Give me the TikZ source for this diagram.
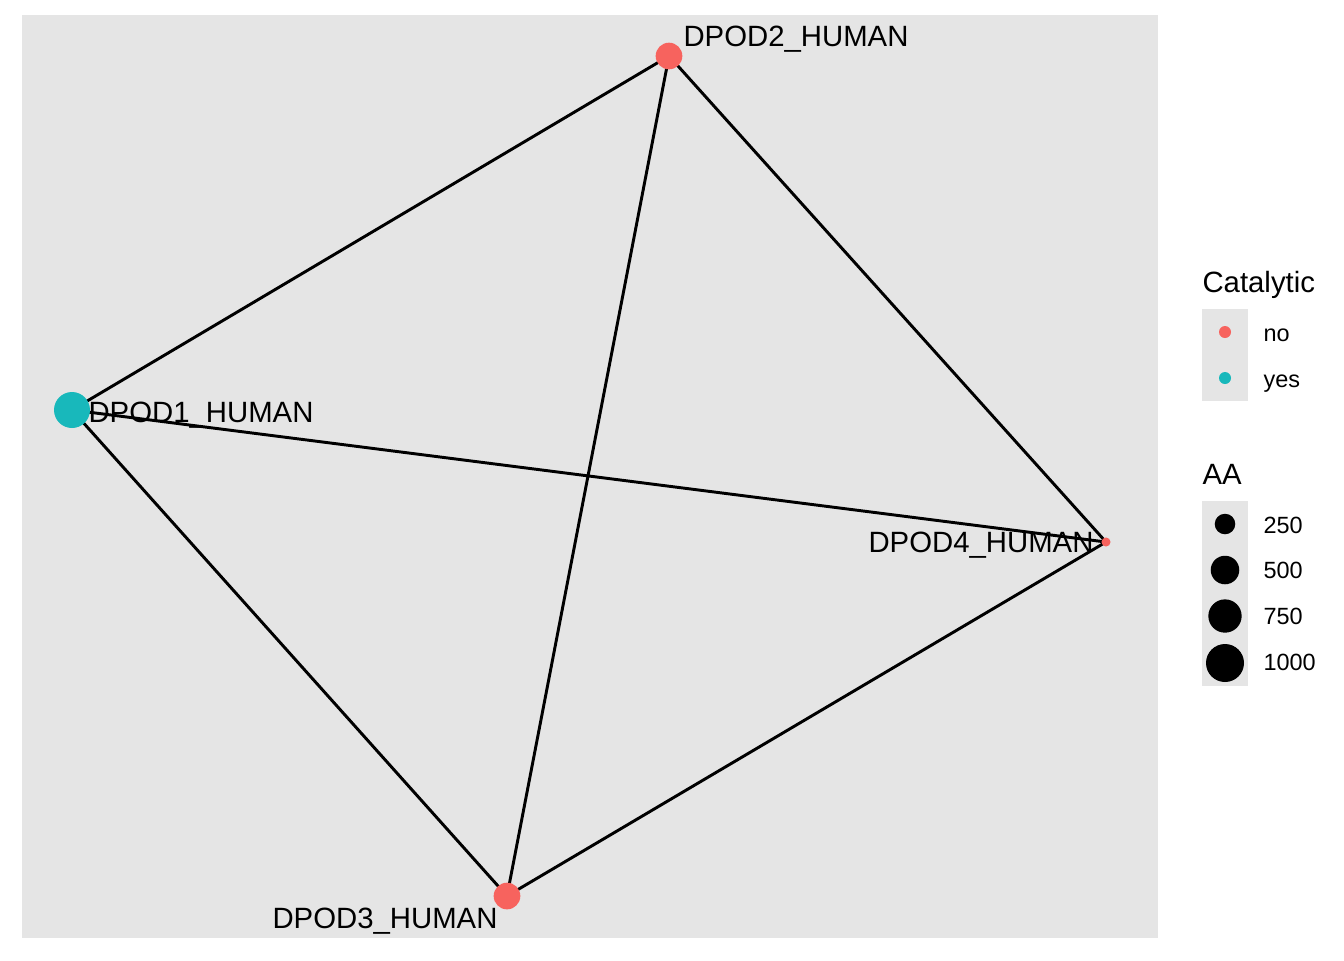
\documentclass[tikz,border=0pt]{standalone}
\usepackage{fontspec}
\setmainfont{Liberation Sans}
\definecolor{panelgrey}{HTML}{E5E5E5}
\definecolor{nored}{HTML}{F7635E}
\definecolor{yesteal}{HTML}{18B8BB}
\pgfdeclarelayer{background}
\pgfdeclarelayer{edges}
\pgfsetlayers{background,edges,main}
\begin{document}
\begin{tikzpicture}[x=0.375pt, y=-0.375pt,
    vtx/.style={circle, inner sep=0pt, draw=none},
    lbl/.style={inner sep=0pt, anchor=base west, font=\fontsize{11}{13}\selectfont},
    keytxt/.style={inner sep=0pt, anchor=base west, font=\fontsize{8.8}{10}\selectfont},
    link/.style={draw=black, line width=1.1pt}]
    \useasboundingbox (0,0) rectangle (1344,960);
    \begin{pgfonlayer}{background}
        \fill[panelgrey] (22,15) rectangle (1158,938);
    \end{pgfonlayer}
    % proteins
    \node[vtx, fill=yesteal, minimum size=13.5pt] (D1) at (72,410) {};
    \node[vtx, fill=nored, minimum size=10pt] (D2) at (669,56) {};
    \node[vtx, fill=nored, minimum size=10pt] (D3) at (507,896) {};
    \node[vtx, fill=nored, minimum size=3.4pt] (D4) at (1106,542) {};
    \begin{pgfonlayer}{edges}
        \foreach \a/\b in {D1/D2, D1/D3, D1/D4, D2/D3, D2/D4, D3/D4}
            \draw[link] (\a.center) -- (\b.center);
    \end{pgfonlayer}
    \node[lbl] (L1) at (88,422) {DPOD1\_HUMAN};
    \node[lbl] (L2) at (683,46) {DPOD2\_HUMAN};
    \node[lbl] (L3) at (272,928) {DPOD3\_HUMAN};
    \node[lbl] (L4) at (868,552) {DPOD4\_HUMAN};
    % legend: Catalytic
    \node[lbl] (catT) at (1202,292) {Catalytic};
    \fill[panelgrey] (1202,309) rectangle (1248,401);
    \node[vtx, fill=nored, minimum size=4.5pt] (catNo) at (1225,332) {};
    \node[vtx, fill=yesteal, minimum size=4.5pt] (catYes) at (1225,378) {};
    \node[keytxt] (noT) at (1263,341) {no};
    \node[keytxt] (yesT) at (1263,387) {yes};
    % legend: AA
    \node[lbl] (aaT) at (1202,484) {AA};
    \fill[panelgrey] (1202,501) rectangle (1248,686);
    \node[vtx, fill=black, minimum size=7.7pt] (aa1) at (1225,524) {};
    \node[vtx, fill=black, minimum size=10.7pt] (aa2) at (1225,570) {};
    \node[vtx, fill=black, minimum size=12.5pt] (aa3) at (1225,616) {};
    \node[vtx, fill=black, minimum size=14.25pt] (aa4) at (1225,663) {};
    \node[keytxt] (aa1T) at (1263,533) {250};
    \node[keytxt] (aa2T) at (1263,578) {500};
    \node[keytxt] (aa3T) at (1263,624) {750};
    \node[keytxt] (aa4T) at (1263,670) {1000};
\end{tikzpicture}
\end{document}
